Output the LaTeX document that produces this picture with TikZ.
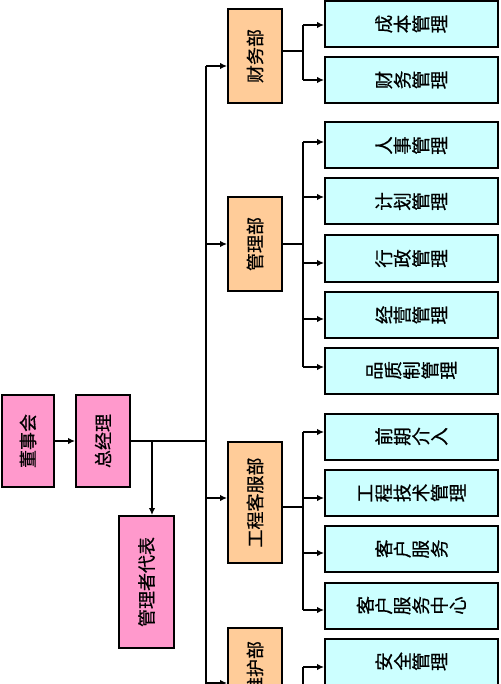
\documentclass[tikz,border=0pt]{standalone}
\usepackage{fontspec}
\usepackage{graphicx}
\newfontfamily\cjk[FakeBold=0.6]{Noto Sans CJK SC}
\usetikzlibrary{arrows.meta}
\definecolor{pinkbox}{HTML}{FF99CC}
\definecolor{tanbox}{HTML}{FFCC99}
\definecolor{cyanbox}{HTML}{CCFFFF}
\def\rc#1{\ifx#1\relax\else\makebox[1em]{\rotatebox[origin=c]{90}{#1}}\expandafter\rc\fi}
\newcommand{\rchars}[1]{\rc#1\relax}
\newcommand{\vt}[1]{\rotatebox{90}{#1}}
\tikzset{
  boxbase/.style={draw, line width=2pt, inner sep=0pt, font=\cjk\fontsize{18}{20}\selectfont},
  rootbox/.style={boxbase, fill=pinkbox, minimum width=54pt},
  deptbox/.style={boxbase, fill=tanbox, minimum width=54pt},
  leafbox/.style={boxbase, fill=cyanbox, minimum width=173pt, minimum height=46pt, font=\cjk\fontsize{18.5}{20}\selectfont},
  conn/.style={line width=1.8pt},
  arr/.style={line width=1.8pt, -{Latex[length=7pt,width=6.5pt]}}
}
\begin{document}
\begin{tikzpicture}[x=1pt, y=-1pt]
\useasboundingbox (0,0) rectangle (500,684);
\clip (0,0) rectangle (500,684);
\fill[white] (0,0) rectangle (500,684);
% root level
\node[rootbox, minimum width=52pt, minimum height=92pt] (dsh) at (28,441) {\vt{董事会}};
\node[rootbox, minimum height=92pt] (zjl) at (103,441) {\vt{总经理}};
\node[rootbox, minimum width=55pt, minimum height=132pt] (gldb) at (146.5,582) {\vt{管理者代表}};
% departments
\node[deptbox, minimum height=94pt] (cwb) at (255,56) {\vt{财务部}};
\node[deptbox, minimum height=94pt] (glb) at (255,244) {\vt{管理部}};
\node[deptbox, minimum height=121pt] (gckfb) at (255,502.5) {\vt{工程客服部}};
\node[deptbox, minimum height=80pt] (whb) at (255,668) {\vt{维护部}};
% leaves
\node[leafbox] (l1) at (411.5,24) {\rchars{成本管理}};
\node[leafbox] (l2) at (411.5,80) {\rchars{财务管理}};
\node[leafbox] (l3) at (411.5,145.5) {\rchars{人事管理}};
\node[leafbox] (l4) at (411.5,201.5) {\rchars{计划管理}};
\node[leafbox] (l5) at (411.5,258.5) {\rchars{行政管理}};
\node[leafbox] (l6) at (411.5,315) {\rchars{经营管理}};
\node[leafbox] (l7) at (411.5,370.5) {\rchars{品质制管理}};
\node[leafbox] (l8) at (411.5,436.5) {\rchars{前期介入}};
\node[leafbox] (l9) at (411.5,493) {\rchars{工程技术管理}};
\node[leafbox] (l10) at (411.5,549) {\rchars{客户服务}};
\node[leafbox] (l11) at (411.5,605.5) {\rchars{客户服务中心}};
\node[leafbox] (l12) at (411.5,661.5) {\rchars{安全管理}};
% root connectors
\draw[arr] (dsh) -- (zjl);
\coordinate (tj) at (206,441);
\draw[conn] (zjl.east) -- (tj);
\coordinate (br) at (152,441);
\draw[arr] (br) -- (br |- gldb.north);
% trunk
\coordinate (t1) at (206,66);
\coordinate (t2) at (206,244);
\coordinate (t3) at (206,498);
\coordinate (t4) at (206,683);
\draw[conn] (t1) -- (206,690);
\draw[arr] (t1) -- (t1 -| cwb.west);
\draw[arr] (t2) -- (t2 -| glb.west);
\draw[arr] (t3) -- (t3 -| gckfb.west);
\draw[arr] (t4) -- (t4 -| whb.west);
% department buses
\coordinate (d1) at (303,51);
\coordinate (d2) at (303,244);
\coordinate (d3) at (303,507);
\draw[conn] (d1 -| cwb.east) -- (d1);
\draw[conn] (d2 -| glb.east) -- (d2);
\draw[conn] (d3 -| gckfb.east) -- (d3);
\coordinate (a1) at (303,25);
\coordinate (a2) at (303,80);
\coordinate (a3) at (303,142);
\coordinate (a4) at (303,197);
\coordinate (a5) at (303,263);
\coordinate (a6) at (303,319);
\coordinate (a7) at (303,367);
\coordinate (a8) at (303,432);
\coordinate (a9) at (303,498);
\coordinate (a10) at (303,553);
\coordinate (a11) at (303,610);
\coordinate (a12) at (303,667);
\draw[conn] (a1) -- (a2);
\draw[conn] (a3) -- (a7);
\draw[conn] (a8) -- (a11);
\draw[conn] (a12) -- (303,690);
\foreach \i in {1,...,12} {\draw[arr] (a\i) -- (a\i -| l\i.west);}
\end{tikzpicture}
\end{document}
